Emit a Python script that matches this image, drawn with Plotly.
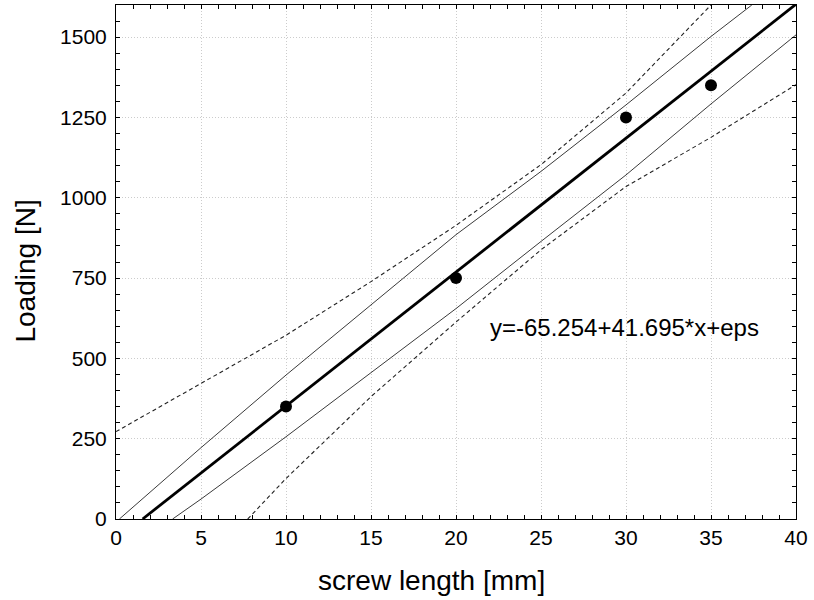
import plotly.graph_objects as go

# measured points
screw_length = [10, 20, 30, 35]
loading = [350, 750, 1250, 1350]

# fitted line (read endpoints)
fit_x = [1.565, 40]
fit_y = [0, 1602.5]

# inner solid bands
inner_up_x = [0.2, 5, 10, 15, 20, 25, 30, 35, 37.4]
inner_up_y = [0, 222, 448, 668, 885, 1082, 1289, 1502, 1600]
inner_lo_x = [3.33, 5, 10, 15, 20, 25, 30, 35, 40]
inner_lo_y = [0, 62, 256, 455, 655, 864, 1071, 1292, 1507]

# outer dashed bands
outer_up_x = [0, 5, 10, 15, 20, 25, 30, 35]
outer_up_y = [272, 422, 572, 739, 914, 1103, 1326, 1600]
outer_lo_x = [7.75, 10, 15, 20, 25, 30, 35, 40]
outer_lo_y = [0, 126, 381, 613, 838, 1035, 1188, 1352]

x_range = [0, 40]
y_range = [0, 1600]
x_step, x_minor_step = 5, 1
y_step, y_minor_step = 250, 50

equation = "y=-65.254+41.695*x+eps"

FONT = "Arial, Liberation Sans, sans-serif"

fig = go.Figure()
for xs, ys in [(outer_up_x, outer_up_y), (outer_lo_x, outer_lo_y)]:
    fig.add_trace(go.Scatter(x=xs, y=ys, mode="lines",
                             line=dict(color="#222222", width=1.1, dash="4px,3px"),
                             hoverinfo="skip", showlegend=False))
for xs, ys in [(inner_up_x, inner_up_y), (inner_lo_x, inner_lo_y)]:
    fig.add_trace(go.Scatter(x=xs, y=ys, mode="lines",
                             line=dict(color="#3a3a3a", width=1),
                             hoverinfo="skip", showlegend=False))
fig.add_trace(go.Scatter(x=fit_x, y=fit_y, mode="lines",
                         line=dict(color="black", width=2.8),
                         showlegend=False))
fig.add_trace(go.Scatter(x=screw_length, y=loading, mode="markers",
                         marker=dict(color="black", size=12, symbol="circle"),
                         showlegend=False))

axis_common = dict(
    showline=True, linecolor="black", linewidth=1, mirror="ticks",
    ticks="inside", ticklen=4, tickcolor="black", tickwidth=1,
    showgrid=True, gridcolor="#cccccc", griddash="1px,2px", gridwidth=1,
    zeroline=False, tickfont=dict(family=FONT, size=21, color="black"),
    tickmode="linear", tick0=0,
)

fig.update_xaxes(range=x_range, dtick=x_step,
                 minor=dict(dtick=x_minor_step, ticks="inside", ticklen=4, tickwidth=1,
                            tickcolor="black", showgrid=False),
                 **axis_common)
fig.update_yaxes(range=y_range, dtick=y_step, ticklabelstandoff=4,
                 minor=dict(dtick=y_minor_step, ticks="inside", ticklen=4, tickwidth=1,
                            tickcolor="black", showgrid=False),
                 **axis_common)

fig.update_layout(
    width=814, height=600,
    margin=dict(l=116, r=18, t=5, b=81),
    plot_bgcolor="white", paper_bgcolor="white",
    font=dict(family=FONT, color="black"),
    annotations=[
        dict(text=equation, x=21.88, y=595, xref="x", yref="y",
             xanchor="left", yanchor="middle", showarrow=False,
             font=dict(family=FONT, size=24, color="black")),
        dict(text="screw length [mm]", x=0.4647, y=-0.1187, xref="paper", yref="paper",
             xanchor="center", yanchor="middle", showarrow=False,
             font=dict(family=FONT, size=28, color="black")),
        dict(text="Loading [N]", x=-0.1338, y=0.4815, xref="paper", yref="paper",
             xanchor="center", yanchor="middle", showarrow=False, textangle=-90,
             font=dict(family=FONT, size=28, color="black")),
    ],
)

fig.write_html("out.html", config={"displayModeBar": False},
               post_script="document.body.style.margin='0';document.body.style.overflow='hidden';")
